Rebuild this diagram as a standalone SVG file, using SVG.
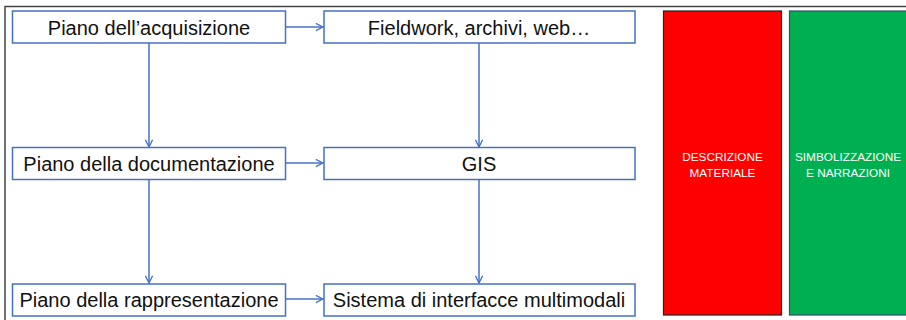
<svg xmlns="http://www.w3.org/2000/svg" width="906" height="320" viewBox="0 0 906 320">
<defs>
<style>
.box{fill:#fff;stroke:#4472C4;stroke-width:1.5}
.t{font-family:"Liberation Sans",Arial,sans-serif;font-size:20px;fill:#111;text-anchor:middle}
.s{font-family:"Liberation Sans",Arial,sans-serif;font-size:11.8px;fill:#fff;text-anchor:middle}
.c{stroke:#4472C4;stroke-width:1.5;fill:none}
</style>
<marker id="ah" viewBox="0 0 10 10" refX="9" refY="5" markerWidth="9" markerHeight="9" markerUnits="userSpaceOnUse" orient="auto">
<path d="M1,1 L9,5 L1,9" fill="none" stroke="#4472C4" stroke-width="1.5"/>
</marker>
</defs>
<rect width="906" height="320" fill="#fff"/>
<path d="M5,320 V6.5 H906" fill="none" stroke="#444" stroke-width="1.5"/>
<g id="connectors">
<line class="c" x1="286" y1="27" x2="323" y2="27" marker-end="url(#ah)"/>
<line class="c" x1="286" y1="163" x2="323" y2="163" marker-end="url(#ah)"/>
<line class="c" x1="286" y1="299" x2="323" y2="299" marker-end="url(#ah)"/>
<line class="c" x1="149" y1="43" x2="149" y2="147" marker-end="url(#ah)"/>
<line class="c" x1="149" y1="180" x2="149" y2="283" marker-end="url(#ah)"/>
<line class="c" x1="479" y1="43" x2="479" y2="147" marker-end="url(#ah)"/>
<line class="c" x1="479" y1="180" x2="479" y2="283" marker-end="url(#ah)"/>
</g>
<g id="n1"><rect class="box" x="12.5" y="11" width="273" height="32"/><text class="t" x="149" y="34.5">Piano dell’acquisizione</text></g>
<g id="n2"><rect class="box" x="324" y="11" width="311" height="32"/><text class="t" x="479" y="34.5">Fieldwork, archivi, web…</text></g>
<g id="n3"><rect class="box" x="12.5" y="147.5" width="273" height="32"/><text class="t" x="149" y="170.5">Piano della documentazione</text></g>
<g id="n4"><rect class="box" x="324" y="147.5" width="311" height="32"/><text class="t" x="479" y="170.5">GIS</text></g>
<g id="n5"><rect class="box" x="12.5" y="284" width="273" height="32"/><text class="t" x="149" y="307">Piano della rappresentazione</text></g>
<g id="n6"><rect class="box" x="324" y="284" width="311" height="32"/><text class="t" x="479" y="307">Sistema di interfacce multimodali</text></g>
<g id="red"><rect x="663.5" y="11" width="118" height="304" fill="#FF0000" stroke="#222" stroke-width="1.2"/><text class="s" x="722.5" y="161">DESCRIZIONE</text><text class="s" x="722.5" y="177">MATERIALE</text></g>
<g id="green"><rect x="789.5" y="11" width="130" height="304" fill="#00B050" stroke="#2F4F6F" stroke-width="1.2"/><text class="s" x="848" y="161">SIMBOLIZZAZIONE</text><text class="s" x="848" y="177">E NARRAZIONI</text></g>
</svg>
